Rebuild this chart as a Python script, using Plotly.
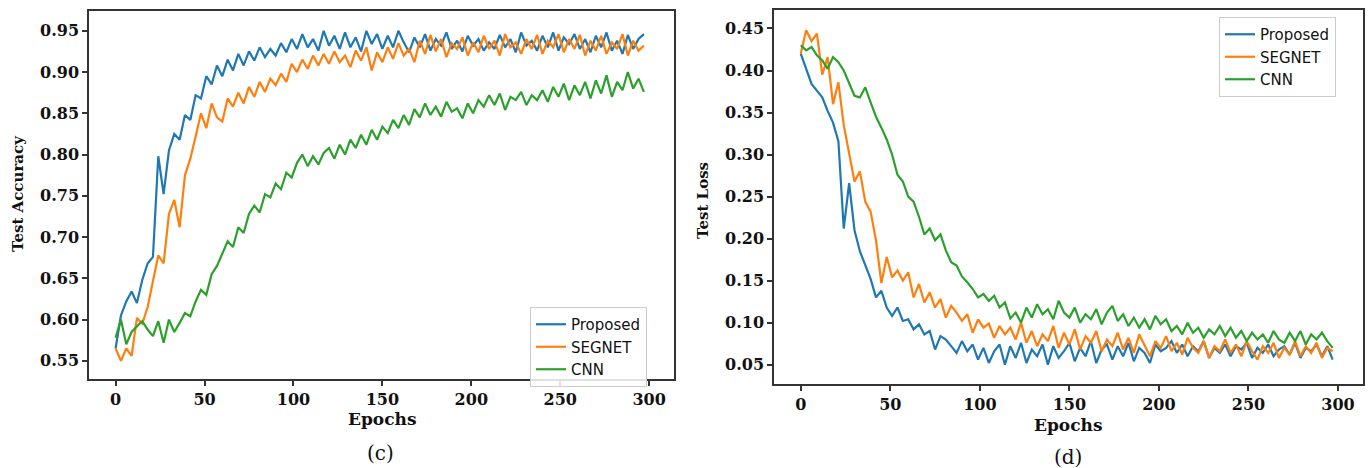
import plotly.graph_objects as go

# ---------------- data ----------------
epochs = list(range(0, 300, 3))
series_names = ["Proposed", "SEGNET", "CNN"]
colors = ["#1f77b4", "#ff7f0e", "#2ca02c"]

prop_acc = [
    0.565, 0.605, 0.622, 0.634, 0.620, 0.648, 0.668, 0.676, 0.798, 0.752,
    0.805, 0.825, 0.818, 0.848, 0.842, 0.872, 0.868, 0.895, 0.885, 0.908,
    0.895, 0.915, 0.902, 0.922, 0.908, 0.925, 0.914, 0.930, 0.918, 0.928,
    0.920, 0.935, 0.924, 0.940, 0.928, 0.946, 0.930, 0.940, 0.926, 0.950,
    0.932, 0.944, 0.928, 0.948, 0.930, 0.942, 0.925, 0.950, 0.934, 0.946,
    0.928, 0.944, 0.930, 0.950, 0.936, 0.924, 0.942, 0.930, 0.946, 0.926,
    0.940, 0.932, 0.948, 0.928, 0.938, 0.925, 0.944, 0.932, 0.940, 0.926,
    0.936, 0.928, 0.945, 0.930, 0.940, 0.924, 0.948, 0.932, 0.938, 0.926,
    0.944, 0.930, 0.948, 0.926, 0.942, 0.934, 0.946, 0.928, 0.940, 0.924,
    0.944, 0.930, 0.948, 0.926, 0.938, 0.922, 0.945, 0.928, 0.940, 0.946,
]
segnet_acc = [
    0.565, 0.550, 0.565, 0.556, 0.602, 0.595, 0.615, 0.645, 0.678, 0.668,
    0.728, 0.745, 0.712, 0.775, 0.795, 0.822, 0.850, 0.832, 0.862, 0.845,
    0.840, 0.868, 0.858, 0.875, 0.862, 0.882, 0.870, 0.888, 0.876, 0.892,
    0.884, 0.898, 0.888, 0.910, 0.900, 0.915, 0.904, 0.920, 0.908, 0.922,
    0.910, 0.925, 0.912, 0.920, 0.906, 0.926, 0.914, 0.930, 0.902, 0.924,
    0.912, 0.930, 0.916, 0.935, 0.920, 0.928, 0.912, 0.938, 0.922, 0.945,
    0.925, 0.940, 0.918, 0.935, 0.928, 0.942, 0.920, 0.936, 0.924, 0.944,
    0.928, 0.938, 0.920, 0.946, 0.930, 0.936, 0.922, 0.940, 0.928, 0.945,
    0.922, 0.938, 0.930, 0.946, 0.924, 0.940, 0.928, 0.945, 0.920, 0.938,
    0.926, 0.944, 0.922, 0.936, 0.928, 0.946, 0.920, 0.938, 0.926, 0.932,
]
cnn_acc = [
    0.578, 0.600, 0.570, 0.585, 0.592, 0.598, 0.588, 0.580, 0.598, 0.572,
    0.600, 0.585, 0.596, 0.608, 0.604, 0.622, 0.636, 0.630, 0.655, 0.665,
    0.680, 0.695, 0.688, 0.712, 0.705, 0.728, 0.738, 0.730, 0.752, 0.748,
    0.765, 0.758, 0.778, 0.772, 0.790, 0.800, 0.786, 0.798, 0.788, 0.802,
    0.808, 0.795, 0.812, 0.800, 0.818, 0.808, 0.824, 0.812, 0.830, 0.818,
    0.834, 0.826, 0.842, 0.832, 0.848, 0.836, 0.855, 0.845, 0.862, 0.848,
    0.858, 0.846, 0.864, 0.852, 0.856, 0.844, 0.862, 0.850, 0.866, 0.858,
    0.872, 0.860, 0.874, 0.854, 0.870, 0.866, 0.876, 0.860, 0.872, 0.866,
    0.878, 0.864, 0.882, 0.870, 0.886, 0.866, 0.884, 0.872, 0.888, 0.868,
    0.890, 0.874, 0.896, 0.870, 0.888, 0.878, 0.900, 0.880, 0.892, 0.876,
]

prop_loss = [
    0.420, 0.402, 0.384, 0.376, 0.368, 0.352, 0.338, 0.316, 0.212, 0.266,
    0.210, 0.185, 0.168, 0.152, 0.130, 0.138, 0.118, 0.108, 0.118, 0.102,
    0.104, 0.092, 0.098, 0.086, 0.090, 0.068, 0.084, 0.080, 0.072, 0.064,
    0.078, 0.066, 0.074, 0.056, 0.070, 0.052, 0.066, 0.074, 0.050, 0.072,
    0.058, 0.076, 0.052, 0.068, 0.060, 0.074, 0.050, 0.072, 0.058, 0.066,
    0.076, 0.054, 0.070, 0.060, 0.078, 0.052, 0.068, 0.074, 0.056, 0.072,
    0.060, 0.076, 0.054, 0.070, 0.064, 0.052, 0.074, 0.066, 0.070, 0.078,
    0.064, 0.074, 0.060, 0.072, 0.066, 0.078, 0.058, 0.070, 0.064, 0.074,
    0.060, 0.072, 0.068, 0.076, 0.058, 0.070, 0.064, 0.074, 0.060, 0.068,
    0.072, 0.062, 0.076, 0.058, 0.070, 0.066, 0.074, 0.060, 0.072, 0.056,
]
segnet_loss = [
    0.420, 0.448, 0.435, 0.444, 0.395, 0.416, 0.360, 0.386, 0.335, 0.300,
    0.268, 0.280, 0.244, 0.232, 0.198, 0.147, 0.178, 0.154, 0.162, 0.150,
    0.160, 0.130, 0.146, 0.124, 0.136, 0.118, 0.128, 0.106, 0.120, 0.112,
    0.102, 0.110, 0.088, 0.104, 0.094, 0.099, 0.082, 0.096, 0.086, 0.094,
    0.080, 0.100, 0.076, 0.090, 0.072, 0.086, 0.078, 0.096, 0.070, 0.088,
    0.074, 0.092, 0.068, 0.084, 0.076, 0.090, 0.066, 0.080, 0.072, 0.088,
    0.068, 0.082, 0.064, 0.086, 0.072, 0.060, 0.078, 0.070, 0.084, 0.066,
    0.076, 0.062, 0.082, 0.070, 0.064, 0.078, 0.058, 0.072, 0.066, 0.080,
    0.064, 0.074, 0.060, 0.078, 0.066, 0.056, 0.072, 0.064, 0.076, 0.058,
    0.070, 0.062, 0.078, 0.060, 0.072, 0.064, 0.076, 0.058, 0.070, 0.066,
]
cnn_loss = [
    0.430, 0.424, 0.428, 0.418, 0.412, 0.402, 0.416, 0.410, 0.400, 0.386,
    0.370, 0.368, 0.380, 0.362, 0.345, 0.332, 0.318, 0.300, 0.276, 0.268,
    0.250, 0.244, 0.226, 0.205, 0.212, 0.198, 0.205, 0.186, 0.172, 0.168,
    0.155, 0.148, 0.140, 0.130, 0.134, 0.126, 0.132, 0.118, 0.124, 0.105,
    0.112, 0.100, 0.118, 0.106, 0.122, 0.110, 0.116, 0.104, 0.126, 0.112,
    0.106, 0.118, 0.100, 0.110, 0.104, 0.116, 0.098, 0.112, 0.120, 0.102,
    0.110, 0.096, 0.106, 0.094, 0.104, 0.092, 0.108, 0.098, 0.104, 0.090,
    0.096, 0.086, 0.100, 0.088, 0.094, 0.082, 0.092, 0.086, 0.096, 0.084,
    0.094, 0.082, 0.090, 0.078, 0.088, 0.080, 0.086, 0.076, 0.090, 0.080,
    0.076, 0.088, 0.078, 0.090, 0.074, 0.086, 0.080, 0.088, 0.078, 0.070,
]

x_ticks = [0, 50, 100, 150, 200, 250, 300]
acc_ticks = [0.55, 0.60, 0.65, 0.70, 0.75, 0.80, 0.85, 0.90, 0.95]
loss_ticks = [0.05, 0.10, 0.15, 0.20, 0.25, 0.30, 0.35, 0.40, 0.45]

# ---------------- figure ----------------
W, H = 1368, 468
fig = go.Figure()

acc_series = [prop_acc, segnet_acc, cnn_acc]
loss_series = [prop_loss, segnet_loss, cnn_loss]
for name, col, ys in zip(series_names, colors, acc_series):
    fig.add_trace(go.Scatter(x=epochs, y=ys, mode="lines", name=name,
                             line=dict(color=col, width=2.2),
                             xaxis="x", yaxis="y", legend="legend"))
for name, col, ys in zip(series_names, colors, loss_series):
    fig.add_trace(go.Scatter(x=epochs, y=ys, mode="lines", name=name,
                             line=dict(color=col, width=2.2),
                             xaxis="x2", yaxis="y2", legend="legend2"))

tickfont = dict(family="DejaVu Serif", size=16, color="#111", weight="bold")
axis_common = dict(showline=True, mirror=True, linecolor="#333", linewidth=1.5,
                   ticks="outside", ticklen=5, tickwidth=1.5, tickcolor="#333",
                   showgrid=False, zeroline=False, tickfont=tickfont)

def px_x(p):
    return p / W

def px_y(p):
    return (H - p) / H

fig.update_layout(
    width=W, height=H,
    margin=dict(l=0, r=0, t=0, b=0),
    paper_bgcolor="white", plot_bgcolor="white",
    xaxis=dict(domain=[px_x(89), px_x(674)], range=[-14.95, 313.95],
               tickvals=x_ticks, anchor="y", **axis_common),
    yaxis=dict(domain=[px_y(379), px_y(11)], range=[0.528, 0.974],
               tickvals=acc_ticks, tickformat=".2f", anchor="x", **axis_common),
    xaxis2=dict(domain=[px_x(774), px_x(1363)], range=[-14.95, 313.95],
                tickvals=x_ticks, anchor="y2", **axis_common),
    yaxis2=dict(domain=[px_y(384), px_y(10)], range=[0.027, 0.472],
                tickvals=loss_ticks, tickformat=".2f", anchor="x2", **axis_common),
    legend=dict(x=px_x(530), y=px_y(307), xanchor="left", yanchor="top",
                bgcolor="rgba(255,255,255,0.85)", bordercolor="#cccccc", borderwidth=1,
                font=dict(family="DejaVu Sans", size=15, color="#111")),
    legend2=dict(x=px_x(1219), y=px_y(17), xanchor="left", yanchor="top",
                 bgcolor="rgba(255,255,255,0.85)", bordercolor="#cccccc", borderwidth=1,
                 font=dict(family="DejaVu Sans", size=15, color="#111")),
)

title_font = dict(family="DejaVu Serif", size=17, color="#111", weight="bold")
ytitle_font = dict(family="DejaVu Serif", size=15, color="#111", weight="bold")
cap_font = dict(family="DejaVu Serif", size=20, color="#111")

annos = [
    dict(text="Epochs", x=px_x(382), y=px_y(419), font=title_font),
    dict(text="Epochs", x=px_x(1068), y=px_y(425), font=title_font),
    dict(text="Test Accuracy", x=px_x(18), y=px_y(194), font=ytitle_font, textangle=-90),
    dict(text="Test Loss", x=px_x(703), y=px_y(200), font=ytitle_font, textangle=-90),
    dict(text="(c)", x=px_x(380), y=px_y(453), font=cap_font),
    dict(text="(d)", x=px_x(1068), y=px_y(457), font=cap_font),
]
for a in annos:
    fig.add_annotation(xref="paper", yref="paper", xanchor="center", yanchor="middle",
                       showarrow=False, **a)

fig.write_html("out.html")
